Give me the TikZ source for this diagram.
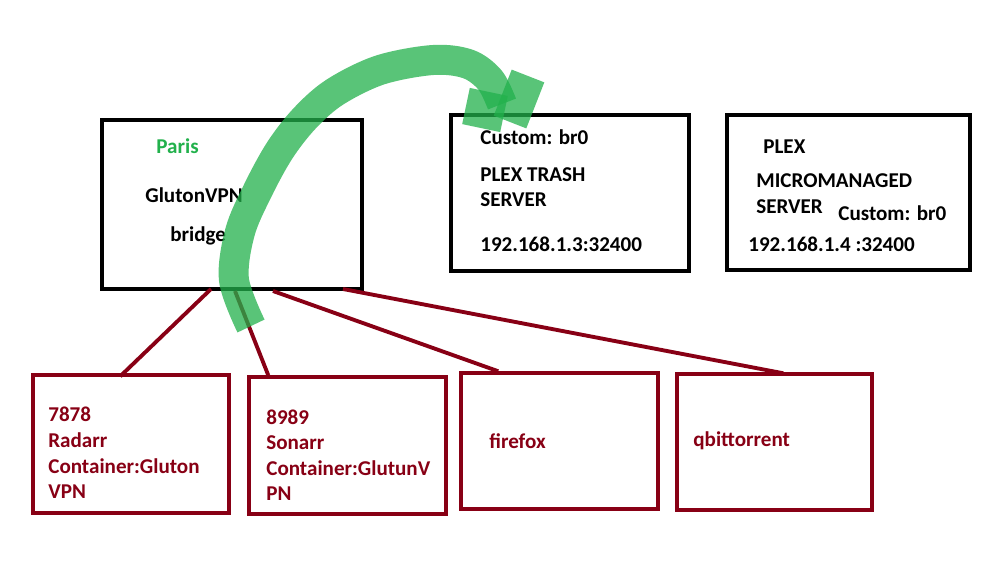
\documentclass[tikz,border=0pt]{standalone}
\usepackage{fontspec}
\setmainfont{Carlito}
\usetikzlibrary{calc}
\definecolor{pdkred}{HTML}{880015}
\definecolor{pgreen}{HTML}{22B14C}
\begin{document}
\begin{tikzpicture}[x=0.02cm,y=-0.02cm,
  blkbox/.style={draw=black,line width=2.3pt,minimum width=#1,inner sep=0pt},
  redbox/.style={draw=pdkred,line width=2pt,inner sep=0pt},
  blk/.style={anchor=west,font=\fontsize{12}{14}\selectfont\bfseries,inner sep=0pt,text=black},
  red/.style={anchor=west,font=\fontsize{12}{14}\selectfont\bfseries,inner sep=0pt,text=pdkred},
  link/.style={draw=pdkred,line width=2.2pt},
  hl/.style={draw=pgreen,draw opacity=0.75,line width=0.6cm,line cap=butt,line join=round}]
\useasboundingbox[fill=white] (0,0) rectangle (1000,565);
% black boxes
\node[blkbox=5.2cm,minimum height=3.38cm] (g) at (232,204.5) {};
\node[blkbox=4.76cm,minimum height=3.12cm] (trash) at (570,193) {};
\node[blkbox=4.86cm,minimum height=3.10cm] (micro) at (848.5,192.5) {};
% red boxes
\node[redbox,minimum width=3.92cm,minimum height=2.76cm] (radarr) at (131,444) {};
\node[redbox,minimum width=3.94cm,minimum height=2.74cm] (sonarr) at (347.5,445.5) {};
\node[redbox,minimum width=3.94cm,minimum height=2.72cm] (firefox) at (559.5,441) {};
\node[redbox,minimum width=3.90cm,minimum height=2.72cm] (qbit) at (774.5,442) {};
% texts
\node[anchor=west,font=\fontsize{12}{14}\selectfont\bfseries,inner sep=0pt,text=pgreen] (paris) at (156,146) {Paris};
\node[blk] (gvpn) at (145,195) {GlutonVPN};
\node[blk] (bridge) at (170,236) {bridge};
\node[blk] (c1) at (480,137) {Custom: br0};
\node[blk] (t1) at (480,175) {PLEX TRASH};
\node[blk] (t2) at (480,200) {SERVER};
\node[blk] (ip1) at (480,244) {192.168.1.3:32400};
\node[blk] (m1) at (763,147) {PLEX};
\node[blk] (m2) at (756,181) {MICROMANAGED};
\node[blk] (m3) at (756,207) {SERVER};
\node[blk] (c2) at (838,213) {Custom: br0};
\node[blk] (ip2) at (748,244) {192.168.1.4 :32400};
\node[red] (r1) at (48,414) {7878};
\node[red] (r2) at (48,440) {Radarr};
\node[red] (r3) at (48,466) {Container:Gluton};
\node[red] (r4) at (48,492) {VPN};
\node[red] (s1) at (266,417) {8989};
\node[red] (s2) at (266,443) {Sonarr};
\node[red] (s3) at (266,468) {Container:GlutunV};
\node[red] (s4) at (266,494) {PN};
\node[red] (ff) at (489,441) {firefox};
\node[red] (qb) at (693,441) {qbittorrent};
% connectors
\draw[link] ($(g.south west)+(111,-2)$) -- ($(radarr.north west)+(89,3)$);
\draw[link] ($(g.south west)+(135,0)$) -- ($(sonarr.north west)+(21,0)$);
\draw[link] ($(g.south west)+(173,0)$) -- ($(firefox.north west)+(39,0)$);
\draw[link] ($(g.south west)+(243,-2)$) -- ($(qbit.north west)+(108,1)$);
% green highlighter arrow
\coordinate (gs) at (251,326);
\coordinate (ge) at (502,104);
\draw[hl] plot[smooth,tension=0.55] coordinates {(gs) (234,280) (240,232) (258,190) (280,150) (305,118) (335,92) (380,70) (433,60) (468,64) (490,80) (ge)};
\draw[hl,line width=0.74cm] (466,106) -- (504,114);
\draw[hl,line width=0.7cm] (528,76) -- (510,122);
\end{tikzpicture}
\end{document}
